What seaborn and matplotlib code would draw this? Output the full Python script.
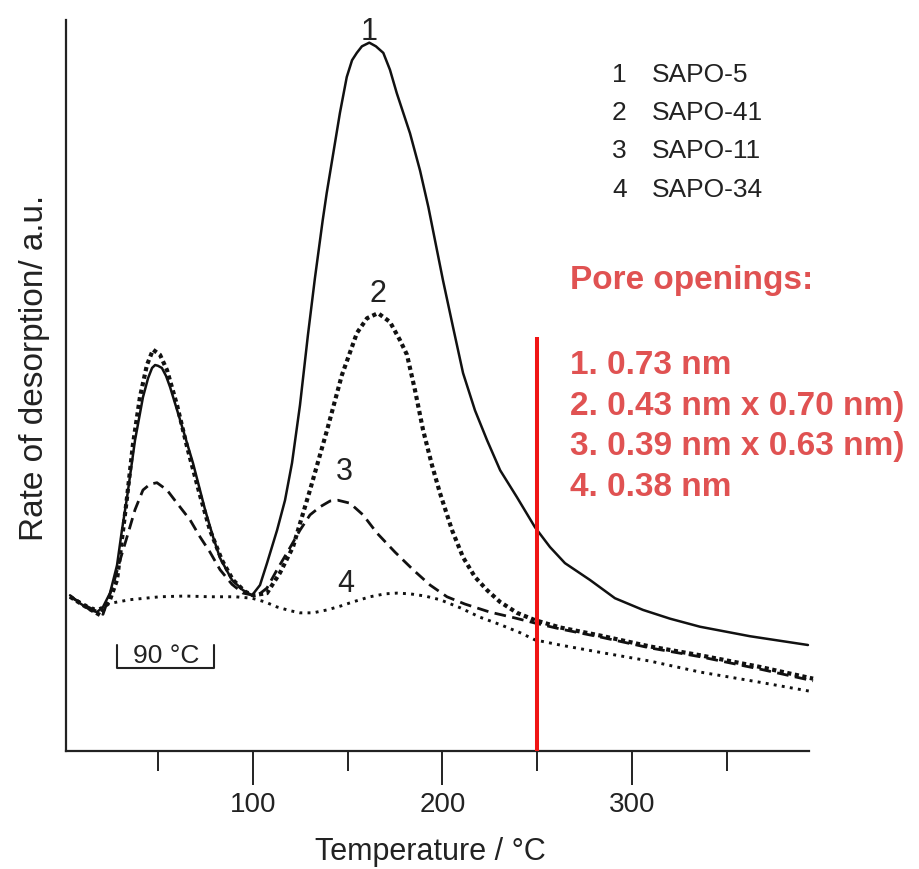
import numpy as np
import pandas as pd
import matplotlib
matplotlib.use("Agg")
import matplotlib.pyplot as plt
import seaborn as sns

# ---------------- data ----------------
t1 = [3.4, 8.7, 13.9, 17.6, 20.8, 24.5, 28.2, 30.8, 33.5, 37.7, 41.9, 44.6, 46.7, 48.3,
      49.8, 51.9, 54.1, 56.2, 61.5, 68.3, 74.7, 78.9, 82.6, 88.9, 94.7, 99.5, 103.7,
      107.4, 112.7, 116.9, 120.6, 124.8, 129.0, 132.7, 136.8, 138.9, 142.4, 145.9, 149.5,
      152.3, 154.8, 157.5, 161.4, 164.9, 168.8, 172.3, 175.9, 182.9, 188.2, 192.6, 196.6,
      200.3, 205.6, 210.9, 217.2, 223.6, 230.5, 239.4, 248.9, 256.8, 264.7, 277.9, 291.1,
      305.9, 320.2, 336.0, 362.4, 393.0]
r1 = [21.3, 20.2, 19.3, 19.0, 19.7, 21.6, 25.4, 30.2, 34.7, 42.5, 48.4, 51.0, 52.4, 52.8,
      52.7, 52.4, 51.3, 49.8, 45.3, 39.4, 33.0, 29.3, 26.4, 23.4, 22.0, 21.3, 22.7,
      25.7, 30.2, 34.3, 39.4, 47.3, 56.9, 64.7, 72.6, 76.3, 81.8, 87.3, 92.2,
      94.5, 95.5, 96.4, 96.9, 96.4, 95.5, 93.2, 90.0, 84.5, 79.4, 74.4, 69.2,
      64.4, 58.0, 51.7, 46.6, 42.5, 38.4, 34.7, 30.6, 27.9, 25.7, 23.4, 20.9,
      19.3, 18.1, 17.0, 15.7, 14.5]

t2 = [3.4, 11.3, 19.2, 24.5, 28.2, 33.5, 36.6, 40.3, 44.0, 47.2, 50.9, 54.6, 59.9, 65.2,
      72.0, 77.3, 83.6, 89.4, 95.8, 100.0, 107.4, 114.3, 121.1, 130.1, 139.1, 146.9, 154.9,
      160.2, 166.0, 172.3, 177.6, 181.3, 185.5, 189.8, 194.5, 198.7, 205.1, 210.9, 217.2,
      223.6, 230.4, 239.4, 248.9, 262.1, 283.2, 309.6, 336.0, 367.7, 395.7]
r2 = [21.1, 19.8, 18.6, 20.7, 23.4, 34.7, 41.9, 48.4, 52.8, 54.9, 54.2, 52.1, 47.3, 41.6,
      35.0, 30.2, 26.1, 23.4, 21.8, 21.3, 21.6, 24.4, 27.9, 35.7, 43.9, 51.4, 57.2,
      59.2, 59.9, 58.7, 56.2, 54.2, 49.4, 43.9, 39.1, 35.3, 30.2, 26.5, 23.8,
      22.0, 20.4, 18.9, 17.9, 16.9, 15.8, 14.3, 13.1, 11.5, 9.9]

t3 = [3.4, 12.9, 20.8, 26.1, 29.8, 33.5, 37.7, 41.9, 45.6, 49.3, 54.6, 59.9, 66.8, 72.0,
      77.3, 82.6, 88.9, 94.7, 102.1, 107.4, 112.7, 119.5, 124.8, 130.1, 135.4, 140.7, 144.9,
      151.2, 158.1, 165.5, 175.0, 184.5, 193.5, 202.4, 211.9, 225.1, 238.3, 248.9, 262.1,
      283.2, 309.6, 336.0, 367.7, 395.7]
r3 = [21.1, 19.7, 18.7, 22.7, 26.1, 29.3, 33.0, 35.7, 36.5, 36.7, 35.7, 33.9, 31.6, 29.3,
      27.2, 24.8, 22.8, 21.6, 21.2, 22.3, 24.8, 27.8, 30.2, 32.3, 33.4, 34.2, 34.3,
      33.9, 32.3, 29.8, 27.2, 24.8, 22.7, 21.1, 20.1, 19.0, 18.2, 17.5, 16.7,
      15.6, 14.1, 12.9, 11.2, 9.6]

t4 = [3.4, 11.3, 17.6, 24.5, 35.1, 50.9, 64.1, 77.3, 90.5, 99.5, 106.3, 112.7, 119.5, 124.8,
      131.7, 139.1, 145.9, 152.8, 161.8, 169.7, 176.0, 182.9, 190.8, 198.7, 209.3, 219.9,
      230.4, 240.9, 248.9, 262.1, 283.2, 309.6, 336.0, 367.7, 395.7]
r4 = [21.1, 20.0, 19.3, 20.2, 20.7, 21.1, 21.2, 21.1, 21.1, 20.9, 20.4, 19.7, 19.2, 18.9,
      18.9, 19.3, 19.8, 20.4, 21.1, 21.5, 21.6, 21.5, 21.2, 20.7, 19.6, 18.3,
      17.3, 16.2, 15.2, 14.5, 13.5, 12.3, 10.8, 9.4, 8.1]

series_nums = ["1", "2", "3", "4"]
series_names = ["SAPO-5", "SAPO-41", "SAPO-11", "SAPO-34"]
curve_label_x = [161.3, 166.0, 148.0, 149.1]
curve_label_y = [97.3, 61.4, 37.1, 21.8]

pore_title = "Pore openings:"
pore_lines = ["1. 0.73 nm", "2. 0.43 nm x 0.70 nm)", "3. 0.39 nm x 0.63 nm)", "4. 0.38 nm"]

major_ticks = [100, 200, 300]
minor_ticks = [50, 150, 250, 350]
marker_temp = 250
marker_top = 56.6
scale_x = [28.2, 28.2, 79.4, 79.4]
scale_y = [14.5, 11.35, 11.35, 14.5]
scale_text = "90 °C"

# ---------------- figure ----------------
sns.set_theme(style="white")
plt.rcParams["font.family"] = ["Liberation Sans", "DejaVu Sans"]

W, H = 920, 869
X0, X1 = 1.27, 393.5
AX_L, AX_W = 66, 742.9
fig = plt.figure(figsize=(W / 100, H / 100), dpi=100)
ax = fig.add_axes([AX_L / W, (H - 751) / H, AX_W / W, 731 / H])

frames = [pd.DataFrame({"T": t, "r": r}) for t, r in [(t1, r1), (t2, r2), (t3, r3), (t4, r4)]]
styles = [
    dict(lw=1.8, ls="-"),
    dict(lw=3.0, ls=(0, (1, 0.85))),
    dict(lw=2.0, ls=(0, (4.2, 2.3))),
    dict(lw=2.1, ls=(0, (1, 1.8))),
]
for df, st in zip(frames, styles):
    n_before = len(ax.lines)
    sns.lineplot(data=df, x="T", y="r", ax=ax, color="#111111", estimator=None,
                 sort=False, legend=False)
    ln = ax.lines[n_before]
    ln.set_linewidth(st["lw"])
    ln.set_linestyle(st["ls"])
    ln.set_solid_joinstyle("round")
    ln.set_clip_on(False)

# red marker line
ax.plot([marker_temp, marker_temp], [0, marker_top], color="#f01414", lw=2.9,
        solid_capstyle="butt", zorder=5)

# scale bar
ax.plot(scale_x, scale_y, color="#222222", lw=1.5)
ax.text(sum(scale_x[1:3]) / 2 + 0.5, 13.0, scale_text, ha="center", va="center",
        fontsize=19, color="#222222")

# curve labels
for num, xx, yy in zip(series_nums, curve_label_x, curve_label_y):
    ax.text(xx, yy, num, ha="center", va="baseline", fontsize=22, color="#222222")

ax.set_xlim(X0, X1)
ax.set_ylim(0, 100)
ax.set_xticks(major_ticks)
ax.set_xticks(minor_ticks, minor=True)
ax.set_xticklabels([str(v) for v in major_ticks])
ax.set_yticks([])
ax.tick_params(axis="x", which="major", direction="out", length=24.5, width=1.4,
               color="#222222", labelsize=20, pad=5, labelcolor="#222222", bottom=True)
ax.tick_params(axis="x", which="minor", direction="out", length=14.4, width=1.4,
               color="#222222", bottom=True)

for s in ["top", "right"]:
    ax.spines[s].set_visible(False)
for s in ["left", "bottom"]:
    ax.spines[s].set_color("#222222")
    ax.spines[s].set_linewidth(1.6)

ax.set_xlabel("Temperature / °C", fontsize=22, color="#222222")
ax.xaxis.set_label_coords((430 - AX_L) / AX_W, (751 - 852) / 731)
ax.xaxis.label.set_va("center")
ax.set_ylabel("Rate of desorption/ a.u.", fontsize=24, color="#222222")
ax.yaxis.set_label_coords((35 - AX_L) / AX_W, (751 - 368) / 731)
ax.yaxis.label.set_va("center")

# legend-like text block
leg_base = [82, 120, 158, 197]
for num, name, yb in zip(series_nums, series_names, leg_base):
    fig.text(612 / W, 1 - yb / H, num, ha="left", va="baseline", fontsize=19, color="#222222")
    fig.text(652 / W, 1 - yb / H, name, ha="left", va="baseline", fontsize=19, color="#222222")

# red annotation
red = "#e05252"
fig.text(570 / W, 1 - 289 / H, pore_title, ha="left", va="baseline", fontsize=24,
         fontweight="bold", color=red)
for line, yb in zip(pore_lines, [374, 414.5, 455, 495.5]):
    fig.text(570 / W, 1 - yb / H, line, ha="left", va="baseline", fontsize=24,
             fontweight="bold", color=red)

fig.savefig("out.png", dpi=100)
